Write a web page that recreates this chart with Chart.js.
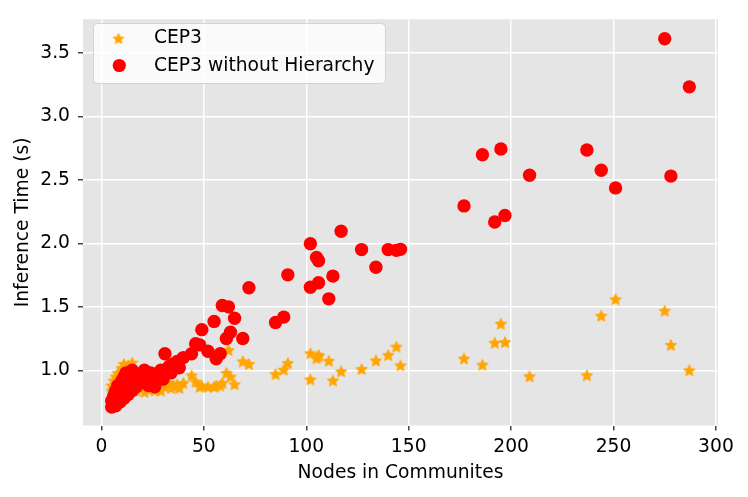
<!DOCTYPE html>
<html>
<head>
<meta charset="utf-8">
<script src="https://cdn.jsdelivr.net/npm/chart.js@4/dist/chart.umd.min.js"></script>
<style>
  html, body { margin: 0; padding: 0; background: #fff; }
  #wrap { width: 748px; height: 497px; }
</style>
</head>
<body>
<div id="wrap"><canvas id="myChart" width="748" height="497"></canvas></div>
<script>
// nodes in communities, and inference time for each run
var nodes = [5, 5, 6, 6, 7, 7, 8, 8, 9, 9, 10, 10, 11, 11, 12, 12, 13, 13, 14, 15, 15, 16, 17, 18, 19, 20,
    21, 22, 23, 24, 26, 27, 29, 30, 31, 33, 34, 35, 37, 38, 40,
    44, 46, 48, 49, 52, 55, 56, 58, 59, 61, 62, 63, 65, 69, 72,
    85, 89, 91, 102, 102, 105, 106, 106, 111, 113, 117, 127, 134, 140, 144, 146,
    177, 186, 192, 195, 197, 209, 237, 244, 251, 275, 278, 287];
var cep3 = [0.84, 0.88, 0.92, 0.82, 0.95, 0.86, 0.98, 0.84, 0.90, 0.96, 1.02, 0.87, 1.05, 0.91, 0.96, 0.88, 1.04, 0.86, 0.92, 1.06, 0.88, 0.98, 0.84, 0.92, 0.86, 0.90,
    0.83, 0.88, 0.85, 0.93, 0.84, 0.88, 0.84, 0.89, 0.87, 0.90, 0.86, 0.88, 0.89, 0.86, 0.90,
    0.96, 0.91, 0.87, 0.88, 0.87, 0.87, 0.88, 0.88, 0.90, 0.98, 1.16, 0.95, 0.89, 1.07, 1.05,
    0.97, 1.005, 1.057, 0.928, 1.134, 1.095, 1.121, 1.11, 1.075, 0.92, 0.992, 1.01, 1.078, 1.12, 1.186, 1.039,
    1.093, 1.044, 1.217, 1.367, 1.222, 0.953, 0.961, 1.43, 1.56, 1.47, 1.2, 1.0];
var cep3NoHierarchy = [0.71, 0.76, 0.74, 0.80, 0.72, 0.84, 0.78, 0.88, 0.75, 0.86, 0.80, 0.92, 0.78, 0.95, 0.84, 0.98, 0.81, 0.93, 0.88, 1.00, 0.84, 0.93, 0.87, 0.97, 0.90, 0.95,
    1.00, 0.92, 0.88, 0.98, 0.87, 0.95, 1.00, 0.93, 1.13, 1.03, 0.98, 1.05, 1.07, 1.02, 1.10,
    1.13, 1.21, 1.20, 1.32, 1.15, 1.385, 1.09, 1.13, 1.51, 1.25, 1.50, 1.30, 1.41, 1.25, 1.65,
    1.377, 1.419, 1.752, 1.997, 1.654, 1.889, 1.863, 1.69, 1.563, 1.742, 2.095, 1.951, 1.812, 1.951, 1.945, 1.953,
    2.295, 2.698, 2.168, 2.744, 2.22, 2.537, 2.736, 2.576, 2.437, 3.612, 2.53, 3.233];
var xTicks = [0, 50, 100, 150, 200, 250, 300];
var yTicks = [1.0, 1.5, 2.0, 2.5, 3.0, 3.5];
var seriesNames = ['CEP3', 'CEP3 without Hierarchy'];

var FONT = '"DejaVu Sans", sans-serif';
var FONT_SIZE = 18.7;

// filled five point star, like matplotlib's '*'
function makeStar(r, color) {
    var c = document.createElement('canvas');
    var s = Math.ceil(r * 2 + 2);
    c.width = s; c.height = s;
    var g = c.getContext('2d');
    g.translate(s / 2, s / 2 + r * 0.1);
    g.beginPath();
    for (var i = 0; i < 10; i++) {
        var rad = (i % 2 === 0) ? r : r * 0.48;
        var a = -Math.PI / 2 + i * Math.PI / 5;
        g.lineTo(Math.cos(a) * rad, Math.sin(a) * rad);
    }
    g.closePath();
    g.fillStyle = color;
    g.fill();
    g.strokeStyle = color;
    g.lineWidth = 0.8;
    g.stroke();
    return c;
}
var starImg = makeStar(6.0, '#FFA500');
var legendStar = makeStar(5.6, '#FFA500');

function toPoints(ys) {
    return nodes.map(function (x, i) { return { x: x, y: ys[i] }; });
}

var panelBg = {
    id: 'panelBg',
    beforeDraw: function (chart) {
        var a = chart.chartArea, ctx = chart.ctx;
        ctx.save();
        ctx.fillStyle = '#E5E5E5';
        ctx.fillRect(a.left, a.top, a.right - a.left, a.bottom - a.top);
        ctx.restore();
    }
};

var boxLegend = {
    id: 'boxLegend',
    afterDraw: function (chart) {
        var ctx = chart.ctx;
        ctx.save();
        ctx.beginPath();
        ctx.roundRect(93.5, 23.5, 292, 60, 4);
        ctx.fillStyle = 'rgba(255,255,255,0.8)';
        ctx.fill();
        ctx.strokeStyle = '#D4D4D4';
        ctx.lineWidth = 1;
        ctx.stroke();

        ctx.drawImage(legendStar, 118.5 - legendStar.width / 2, 38.5 - legendStar.height / 2);
        ctx.beginPath();
        ctx.arc(119.3, 65.5, 6.6, 0, Math.PI * 2);
        ctx.fillStyle = '#FF0000';
        ctx.fill();

        ctx.fillStyle = '#000';
        ctx.font = FONT_SIZE + 'px ' + FONT;
        ctx.textBaseline = 'middle';
        ctx.fillText(seriesNames[0], 154, 38.5);
        ctx.fillText(seriesNames[1], 154, 66);
        ctx.restore();
    }
};

var ctx = document.getElementById('myChart').getContext('2d');
var myChart = new Chart(ctx, {
    type: 'scatter',
    data: {
        datasets: [
            {
                label: seriesNames[0],
                data: toPoints(cep3),
                pointStyle: starImg,
                backgroundColor: '#FFA500',
                order: 1
            },
            {
                label: seriesNames[1],
                data: toPoints(cep3NoHierarchy),
                pointStyle: 'circle',
                pointRadius: 6.7,
                pointBorderWidth: 0,
                backgroundColor: '#FF0000',
                borderColor: '#FF0000',
                order: 0
            }
        ]
    },
    options: {
        responsive: false,
        animation: false,
        devicePixelRatio: 1,
        layout: { padding: { left: 0, right: 30, top: 13, bottom: 0 } },
        plugins: {
            legend: { display: false },
            tooltip: { enabled: false }
        },
        scales: {
            x: {
                type: 'linear',
                min: -9,
                max: 301,
                afterBuildTicks: function (scale) {
                    scale.ticks = xTicks.map(function (v) { return { value: v }; });
                },
                afterFit: function (scale) { scale.height = 71.5; },
                ticks: {
                    color: '#000',
                    padding: 5,
                    maxRotation: 0,
                    font: { family: FONT, size: FONT_SIZE },
                    callback: function (v) { return String(v); }
                },
                grid: { color: '#FFFFFF', lineWidth: 1.5, tickColor: '#444', tickLength: 5 },
                border: { display: false },
                title: {
                    display: true,
                    text: 'Nodes in Communites',
                    color: '#000',
                    font: { family: FONT, size: FONT_SIZE },
                    padding: { top: 0, bottom: 13 }
                }
            },
            y: {
                type: 'linear',
                min: 0.565,
                max: 3.766,
                afterBuildTicks: function (scale) {
                    scale.ticks = yTicks.map(function (v) { return { value: v }; });
                },
                afterFit: function (scale) { scale.width = 83; },
                ticks: {
                    color: '#000',
                    padding: 8,
                    font: { family: FONT, size: FONT_SIZE },
                    callback: function (v) { return Number(v).toFixed(1); }
                },
                grid: { color: '#FFFFFF', lineWidth: 1.5, tickColor: '#444', tickLength: 5 },
                border: { display: false },
                title: {
                    display: true,
                    text: 'Inference Time (s)',
                    color: '#000',
                    font: { family: FONT, size: FONT_SIZE },
                    padding: { top: 11.5, bottom: 0 }
                }
            }
        }
    },
    plugins: [panelBg, boxLegend]
});
</script>
</body>
</html>
